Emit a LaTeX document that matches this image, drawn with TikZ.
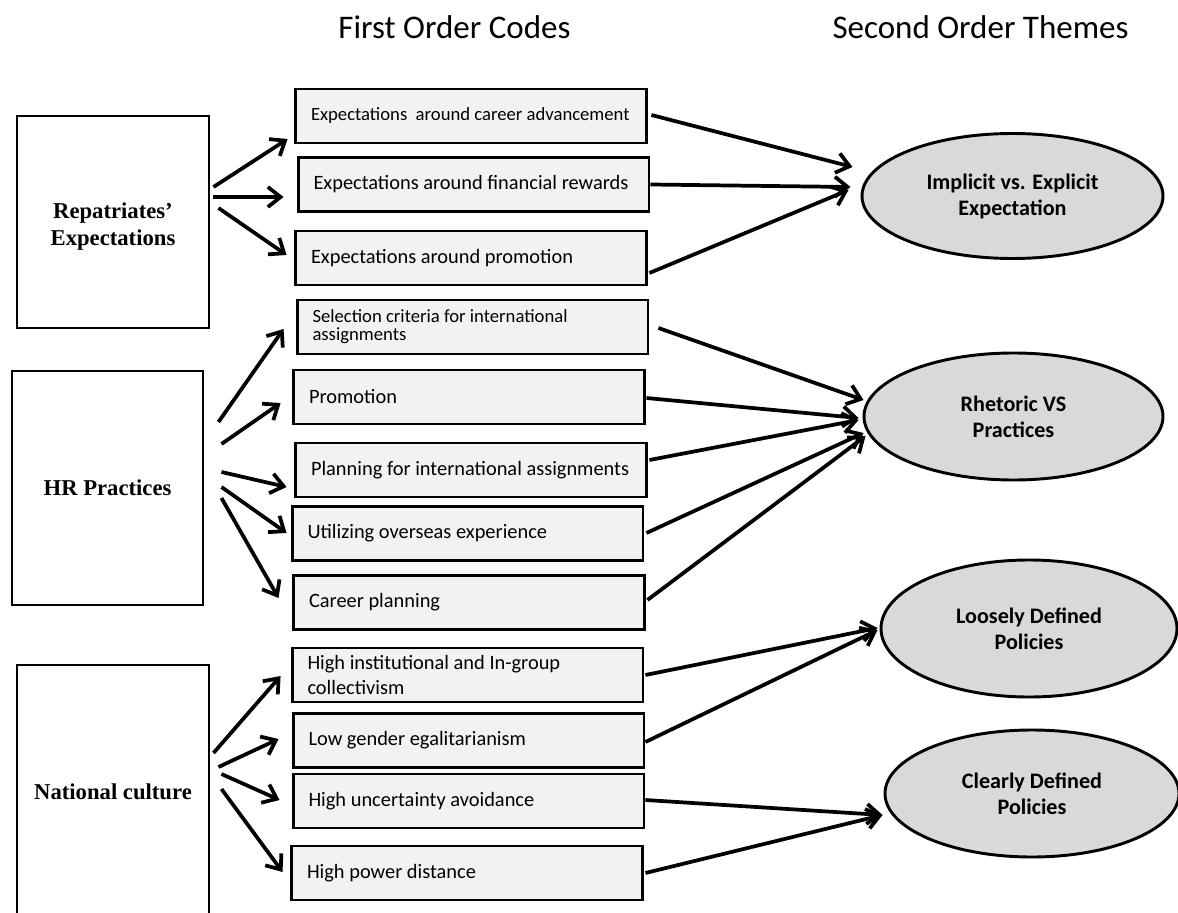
\documentclass[tikz,border=0pt]{standalone}
\usepackage{fontspec}
\setmainfont{Liberation Serif}
\newfontfamily\bodysans{Carlito}
\usetikzlibrary{arrows.meta,shapes.geometric,calc}
\definecolor{codefill}{HTML}{F2F2F2}
\definecolor{themefill}{HTML}{D9D9D9}
\tikzset{
  srcbox/.style={draw, line width=2.2pt, fill=white, inner sep=0pt},
  srclabel/.style={inner sep=0pt, align=flush center,
    font=\bfseries\fontsize{17pt}{20.25pt}\selectfont},
  codebox/.style={draw, line width=2.2pt, fill=codefill, minimum height=40.5pt,
    text width=240pt, inner xsep=11.6pt, inner ysep=0pt, align=flush left,
    font=\bodysans\fontsize{15.3pt}{18pt}\selectfont},
  smallcode/.style={font=\bodysans\fontsize{14pt}{13.5pt}\selectfont},
  theme/.style={ellipse, draw, line width=2.2pt, fill=themefill, inner sep=0pt, align=flush center,
    font=\bodysans\bfseries\fontsize{16.6pt}{19.5pt}\selectfont},
  header/.style={anchor=base, font=\bodysans\fontsize{24.75pt}{30pt}\selectfont},
  conn/.style={line width=2.8pt, -{Straight Barb[length=9.5pt,width=15pt]}}
}
\begin{document}
\begin{tikzpicture}[x=0.75pt,y=-0.75pt]
\useasboundingbox (0,0) rectangle (1178,913);
\clip (0,0) rectangle (1178,913);

% column headings
\node[header] (h1) at (454.5,39) {First Order Codes};
\node[header] (h2) at (980.5,39) {Second Order Themes};

% source categories
\node[srcbox, minimum width=144pt, minimum height=159pt] (rep) at (113,222) {};
\node[srclabel] (replbl) at (113,227) {Repatriates’\\Expectations};
\node[srcbox, minimum width=143.25pt, minimum height=175.5pt] (hr) at (107.5,488) {};
\node[srclabel] (hrlbl) at (hr.center) {HR Practices};
\node[srcbox, minimum width=144pt, minimum height=190.5pt] (nat) at (113,792) {};
\node[srclabel] (natlbl) at (nat.center) {National culture};

% first order codes
\node[codebox, font=\bodysans\fontsize{14pt}{16pt}\selectfont] (c1) at (471,116) {\mbox{Expectations\ \ around career advancement}};
\node[codebox] (c2) at (473.5,184.5) {Expectations around financial rewards};
\node[codebox] (c3) at (471,258) {Expectations around promotion};
\node[codebox, smallcode] (c4) at (472.5,327) {Selection criteria for international\\assignments};
\node[codebox] (c5) at (469,397) {Promotion};
\node[codebox] (c6) at (471,470) {\mbox{Planning for international assignments}};
\node[codebox] (c7) at (467.5,533.5) {Utilizing overseas experience};
\node[codebox] (c8) at (469,602.5) {Career planning};
\node[codebox, font=\bodysans\fontsize{15.3pt}{18.75pt}\selectfont] (c9) at (467.5,675) {High institutional and In-group\\collectivism};
\node[codebox] (c10) at (468.5,740.5) {Low gender egalitarianism};
\node[codebox] (c11) at (468.5,801) {High uncertainty avoidance};
\node[codebox] (c12) at (467,873) {High power distance};

% second order themes
\node[theme, minimum width=225.75pt, minimum height=93.75pt] (e1) at (1012.5,196) {Implicit vs. Explicit\\Expectation};
\node[theme, minimum width=224.25pt, minimum height=95.25pt] (e2) at (1013.5,416.5) {Rhetoric VS\\Practices};
\node[theme, minimum width=222pt, minimum height=102.75pt] (e3) at (1029,628.5) {Loosely Defined\\Policies};
\node[theme, minimum width=220.5pt, minimum height=95.25pt] (e4) at (1032,793.5) {Clearly Defined\\Policies};

% categories to codes
\draw[conn] ($(rep.east)+(3,-35)$) -- ($(c1.west)+(-6.5,23)$);
\draw[conn] ($(rep.east)+(3,-25)$) -- ($(c2.west)+(-13,12.5)$);
\draw[conn] ($(rep.east)+(8,-14)$) -- ($(c3.west)+(-7.5,-3)$);

\draw[conn] ($(hr.east)+(14,-66)$) -- ($(c4.west)+(-12,2)$);
\draw[conn] ($(hr.east)+(17,-44)$) -- ($(c5.west)+(-11.5,6)$);
\draw[conn] ($(hr.east)+(17,-16)$) -- ($(c6.west)+(-7.5,17)$);
\draw[conn] ($(hr.east)+(17,-1)$) -- ($(c7.west)+(-4,-0.5)$);
\draw[conn] ($(hr.east)+(17,10)$) -- ($(c8.west)+(-13.5,-4.5)$);

\draw[conn] ($(nat.east)+(3,-39)$) -- ($(c9.west)+(-10,1)$);
\draw[conn] ($(nat.east)+(8,-25)$) -- ($(c10.west)+(-13,-1.5)$);
\draw[conn] ($(nat.east)+(11,-18)$) -- ($(c11.west)+(-12,-1)$);
\draw[conn] ($(nat.east)+(11,-3)$) -- ($(c12.west)+(-7.5,-1)$);

% codes to themes
\draw[conn] ($(c1.east)+(3.5,-1)$) -- ($(e1.west)+(-8,-29)$);
\draw[conn] (c2.east) -- ($(e1.west)+(-10,-9)$);
\draw[conn] ($(c3.east)+(1.5,15)$) -- ($(e1.west)+(-12,-6)$);

\draw[conn] ($(c4.east)+(9,1)$) -- ($(e2.west)+(1,-16.5)$);
\draw[conn] ($(c5.east)+(0.5,1)$) -- ($(e2.west)+(-4,1.5)$);
\draw[conn] ($(c6.east)+(1.5,-10)$) -- ($(e2.west)+(-4,3.5)$);
\draw[conn] ($(c7.east)+(2,-0.5)$) -- ($(e2.west)+(1,16.5)$);
\draw[conn] ($(c8.east)+(1.5,-2.5)$) -- ($(e2.west)+(3,19.5)$);

\draw[conn] ($(c9.east)+(1,0)$) -- ($(e3.west)+(-2,-0.5)$);
\draw[conn] ($(c10.east)+(0,1.5)$) -- ($(e3.west)+(-2,1.5)$);

\draw[conn] ($(c11.east)+(0,-1)$) -- ($(e4.west)+(-1,21.5)$);
\draw[conn] ($(c12.east)+(1.5,0)$) -- ($(e4.west)+(-1,21.5)$);
\end{tikzpicture}
\end{document}
